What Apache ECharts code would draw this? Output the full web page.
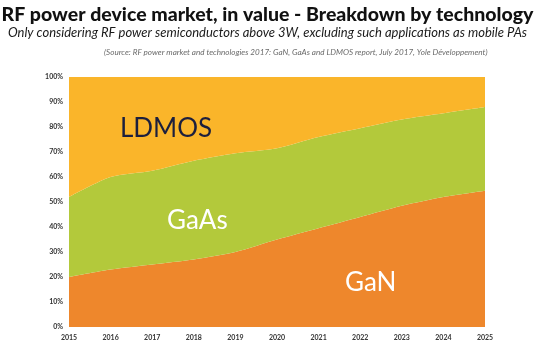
<!DOCTYPE html>
<html>
<head>
<meta charset="utf-8">
<style>
  html, body { margin: 0; padding: 0; background: #ffffff; }
  #chart { width: 535px; height: 346px; }
</style>
<script src="https://cdn.jsdelivr.net/npm/echarts@6/dist/echarts.min.js"></script>
</head>
<body>
<div id="chart"></div>
<script>
// Market share by technology, % of RF power device value
const years = ['2015', '2016', '2017', '2018', '2019', '2020', '2021', '2022', '2023', '2024', '2025'];
const gan   = [20, 23, 25, 27, 30, 35, 39.5, 44, 48.5, 52, 54.5];
const gaas  = [32, 37, 37.5, 39.5, 39.5, 36.5, 36.5, 35.5, 34.5, 33.5, 33.5];
const ldmos = [48, 40, 37.5, 33.5, 30.5, 28.5, 24, 20.5, 17, 14.5, 12];
const yTicks = [0, 10, 20, 30, 40, 50, 60, 70, 80, 90, 100];

const chart = echarts.init(document.getElementById('chart'), null, { renderer: 'canvas' });

const areaSeries = (name, data, color) => ({
  name: name,
  type: 'line',
  stack: 'share',
  data: data,
  smooth: 0.25,
  symbol: 'none',
  lineStyle: { width: 0 },
  areaStyle: { color: color, opacity: 1 },
  emphasis: { disabled: true }
});

chart.setOption({
  animation: false,
  backgroundColor: '#ffffff',
  title: [
    {
      text: 'RF power device market, in value - Breakdown by technology',
      left: 'center', top: 0,
      textStyle: { fontFamily: 'Lato', fontWeight: 900, fontSize: 19.5, color: '#111111' }
    },
    {
      text: 'Only considering RF power semiconductors above 3W, excluding such applications as mobile PAs',
      left: 'center', top: 21,
      textStyle: { fontFamily: 'Lato', fontStyle: 'italic', fontWeight: 'normal', fontSize: 13, color: '#1a1a1a' }
    },
    {
      text: '(Source: RF power market and technologies 2017: GaN, GaAs and LDMOS report, July 2017, Yole Développement)',
      left: 99, top: 43,
      textStyle: { fontFamily: 'Lato', fontStyle: 'italic', fontWeight: 'normal', fontSize: 8.1, color: '#6a6a6a' }
    }
  ],
  grid: { left: 69, right: 50, top: 77, bottom: 19 },
  xAxis: {
    type: 'category',
    data: years,
    boundaryGap: false,
    axisLine: { show: false },
    axisTick: { show: false },
    axisLabel: { margin: 7, fontFamily: 'Lato', fontWeight: 'bold', fontSize: 7, color: '#333333' }
  },
  yAxis: {
    type: 'value',
    min: yTicks[0],
    max: yTicks[yTicks.length - 1],
    interval: 10,
    splitLine: { show: false },
    axisLine: { show: false },
    axisTick: { show: false },
    axisLabel: {
      margin: 6,
      formatter: '{value}%',
      fontFamily: 'Lato', fontWeight: 'bold', fontSize: 7, color: '#333333'
    }
  },
  series: [
    areaSeries('GaN', gan, '#ee872c'),
    areaSeries('GaAs', gaas, '#b3c93b'),
    areaSeries('LDMOS', ldmos, '#fab52a')
  ],
  graphic: [
    {
      type: 'text', left: 120, top: 116, z: 100,
      style: { text: 'LDMOS', fontFamily: 'Lato', fontSize: 26, fill: '#1c1f3d' }
    },
    {
      type: 'text', left: 167, top: 208, z: 100,
      style: { text: 'GaAs', fontFamily: 'Lato', fontSize: 26, fill: '#ffffff' }
    },
    {
      type: 'text', left: 345, top: 270, z: 100,
      style: { text: 'GaN', fontFamily: 'Lato', fontSize: 26, fill: '#ffffff' }
    }
  ]
});
</script>
</body>
</html>
